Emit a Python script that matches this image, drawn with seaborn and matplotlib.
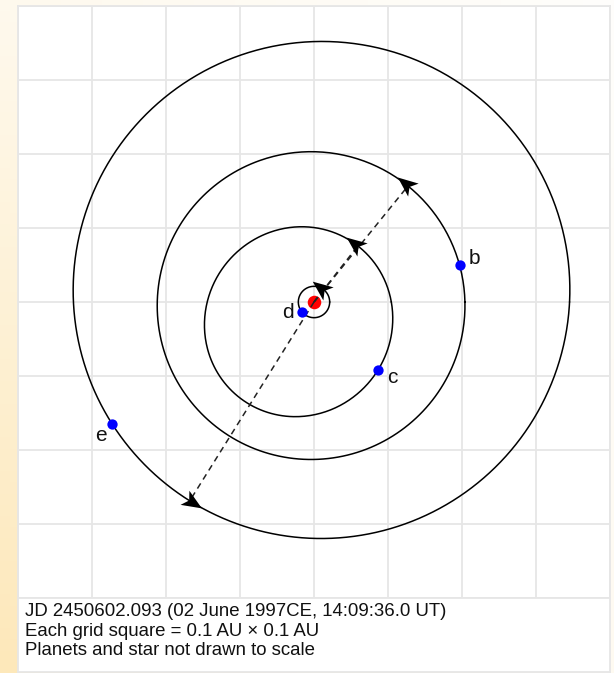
import numpy as np
import matplotlib
matplotlib.use("Agg")
import matplotlib.pyplot as plt
from matplotlib.path import Path
from matplotlib.markers import MarkerStyle
from matplotlib.transforms import Affine2D
import seaborn as sns

# orbit elements (AU, degrees; star at the focus)
planets = ["d", "c", "b", "e"]
semi_major = [0.0212, 0.130, 0.208, 0.336]
eccentricity = [0.0, 0.26, 0.03, 0.057]
periastron_deg = [52.0, 52.0, 51.0, 238.0]
# current polar angle of each planet seen from the star
planet_angle_deg = [221.6, -46.7, 14.1, 211.2]
label_offsets = [(-10, 0), (10, -5.5), (10.5, 5), (-8, -8.5)]

caption = ["JD 2450602.093 (02 June 1997CE, 14:09:36.0 UT)",
           "Each grid square = 0.1 AU \u00d7 0.1 AU",
           "Planets and star not drawn to scale"]

sns.set_style("white")
plt.rcParams["font.family"] = ["Liberation Sans", "DejaVu Sans"]
plt.rcParams["text.color"] = "#111111"

fig = plt.figure(figsize=(6.14, 6.73), dpi=100)

# cream background fading in from the lower left
bg = fig.add_axes([0, 0, 1, 1], zorder=-10)
gx, gy = np.meshgrid(np.linspace(0, 1, 60), np.linspace(0, 1, 60))
w = (0.25 + 0.75 * gy) * (1 - 0.8 * gx)
tint = np.array([253, 232, 186]) / 255.0
img = 1 - w[..., None] * (1 - tint)
bg.imshow(img, aspect="auto", extent=(0, 1, 0, 1), origin="upper")
bg.set_axis_off()

ax = fig.add_axes([18 / 614, 1 / 673, 592 / 614, 666 / 673])
ax.set_facecolor("white")
ax.set_xlim(-0.4, 0.4)
ax.set_ylim(-0.5, 0.4)
ax.set_xticks(np.arange(-0.4, 0.41, 0.1))
ax.set_yticks(np.arange(-0.5, 0.41, 0.1))
ax.tick_params(length=0, labelbottom=False, labelleft=False)
ax.set_axisbelow(True)
ax.grid(True, color="#e6e6e6", lw=1.3)
for sp in ax.spines.values():
    sp.set_color("#e6e6e6")
    sp.set_linewidth(1.3)

# concave arrowhead, tip pointing along +x
head = Path([(1.0, 0.0), (-0.8, 0.75), (-0.35, 0.0), (-0.8, -0.75), (1.0, 0.0)],
            [Path.MOVETO, Path.LINETO, Path.LINETO, Path.LINETO, Path.CLOSEPOLY])

theta = np.linspace(0, 2 * np.pi, 400)
px, py = [], []
for name, a, e, w_deg, ang in zip(planets, semi_major, eccentricity,
                                  periastron_deg, planet_angle_deg):
    om = np.radians(w_deg)
    r = a * (1 - e ** 2) / (1 + e * np.cos(theta - om))
    sns.lineplot(x=r * np.cos(theta), y=r * np.sin(theta), sort=False,
                 estimator=None, color="black", lw=1.1, ax=ax, zorder=3)
    # line of apsides, star to periastron
    rp = a * (1 - e)
    peri = np.array([rp * np.cos(om), rp * np.sin(om)])
    ax.plot([0, peri[0]], [0, peri[1]], color="#222222", lw=1.1,
            ls=(0, (4, 3)), zorder=6)
    # arrowhead for direction of motion (counter-clockwise)
    m = MarkerStyle(head, transform=Affine2D().rotate_deg(w_deg + 90))
    tip = peri + 0.004 * np.array([-np.sin(om), np.cos(om)])
    ax.plot([tip[0]], [tip[1]], marker=m, ms=16, color="black", mew=0, zorder=7)
    t = np.radians(ang)
    rr = a * (1 - e ** 2) / (1 + e * np.cos(t - om))
    px.append(rr * np.cos(t))
    py.append(rr * np.sin(t))

sns.scatterplot(x=[0], y=[0], color="#ff0000", s=95, linewidth=0, ax=ax, zorder=5)
sns.scatterplot(x=px, y=py, color="#0000ff", s=55, linewidth=0, ax=ax, zorder=8)
for name, x, y, off in zip(planets, px, py, label_offsets):
    ax.annotate(name, (x, y), xytext=off, textcoords="offset points",
                ha="center", va="center", fontsize=15, zorder=9)

# caption box
ax.axhspan(-0.5, -0.4, color="white", zorder=1)
ax.axhline(-0.4, color="#e6e6e6", lw=1.3, zorder=1.5)
for i, line in enumerate(caption):
    ax.text(-0.3905, -0.4189 - i * 0.0257, line, fontsize=13.4,
            va="center", ha="left", zorder=9)

fig.savefig("out.png", dpi=100)
